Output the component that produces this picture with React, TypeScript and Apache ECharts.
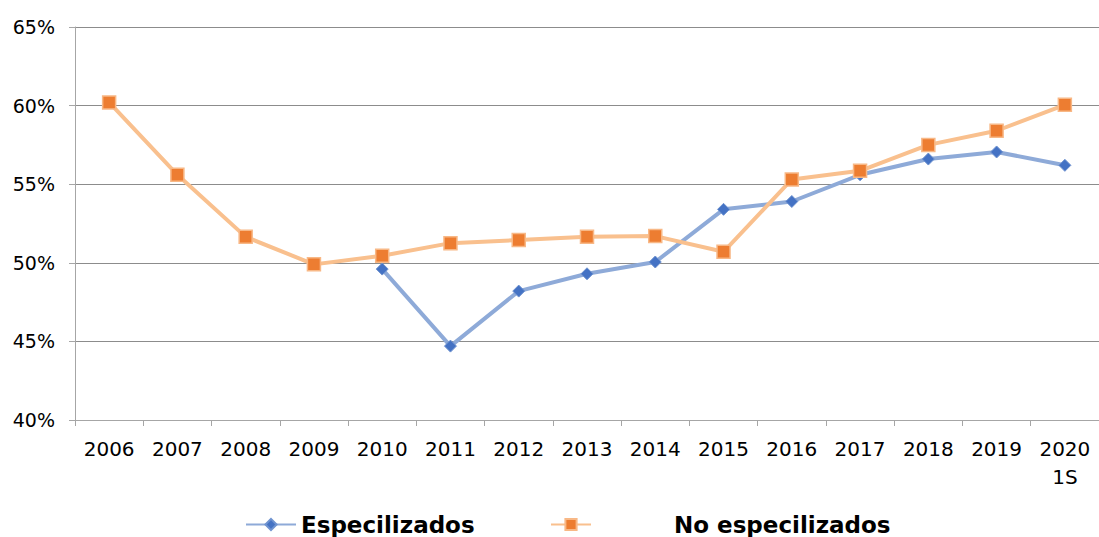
import React, { useEffect, useRef } from "react";
import * as echarts from "echarts";

const categories = ["2006", "2007", "2008", "2009", "2010", "2011", "2012", "2013", "2014", "2015", "2016", "2017", "2018", "2019", "2020\n1S"];
const especializados: (number | null)[] = [null, null, null, null, 49.6, 44.7, 48.2, 49.3, 50.05, 53.4, 53.9, 55.6, 56.6, 57.05, 56.2];
const noEspecializados: number[] = [60.2, 55.6, 51.65, 49.9, 50.45, 51.25, 51.45, 51.65, 51.7, 50.7, 55.3, 55.85, 57.5, 58.4, 60.05];

export default function App() {
  const ref = useRef<HTMLDivElement>(null);
  useEffect(() => {
    const chart = echarts.init(ref.current!, null, { renderer: "svg" });
    const font = "DejaVu Sans, Verdana, sans-serif";
    chart.setOption({
      animation: false,
      backgroundColor: "#ffffff",
      textStyle: { fontFamily: font },
      grid: { left: 75, right: 0, top: 27, bottom: 117, containLabel: false },
      legend: [
        {
          data: ["Especilizados"],
          left: 240,
          top: 508,
          itemWidth: 50,
          itemHeight: 14,
          textStyle: { fontSize: 23, fontWeight: "bold", color: "#000", fontFamily: font },
        },
        {
          data: ["No especilizados"],
          left: 545,
          top: 508,
          itemWidth: 40,
          itemHeight: 14,
          textStyle: { fontSize: 23, fontWeight: "bold", color: "#000", fontFamily: font, padding: [0, 0, 0, 78] },
        },
      ],
      xAxis: {
        type: "category",
        data: categories,
        boundaryGap: true,
        axisLine: { lineStyle: { color: "#a6a6a6", width: 1 } },
        axisTick: { show: true, length: 6, lineStyle: { color: "#a6a6a6" }, alignWithLabel: false },
        axisLabel: { color: "#000", fontSize: 20, margin: 15, lineHeight: 28, interval: 0, fontFamily: font },
      },
      yAxis: {
        type: "value",
        min: 40,
        max: 65,
        interval: 5,
        axisLine: { show: true, lineStyle: { color: "#a6a6a6" } },
        axisTick: { show: true, length: 6, lineStyle: { color: "#a6a6a6" } },
        axisLabel: { color: "#000", fontSize: 19, margin: 20, formatter: "{value}%", fontFamily: font },
        splitLine: { lineStyle: { color: "#8c8c8c", width: 1 } },
      },
      series: [
        {
          name: "Especilizados",
          type: "line",
          data: especializados,
          symbol: "diamond",
          symbolSize: 12,
          lineStyle: { color: "#8eaad8", width: 4 },
          itemStyle: { color: "#4472c4", borderColor: "#6f93d0", borderWidth: 1 },
          z: 2,
        },
        {
          name: "No especilizados",
          type: "line",
          data: noEspecializados,
          symbol: "rect",
          symbolSize: 13,
          lineStyle: { color: "#f9c08e", width: 4 },
          itemStyle: { color: "#ed7d31", borderColor: "#f8b886", borderWidth: 1.5 },
          z: 3,
        },
      ],
    });
    return () => chart.dispose();
  }, []);
  return (
    <div
      ref={ref}
      style={{ position: "fixed", left: 0, top: 0, width: 1099, height: 537 }}
    />
  );
}
